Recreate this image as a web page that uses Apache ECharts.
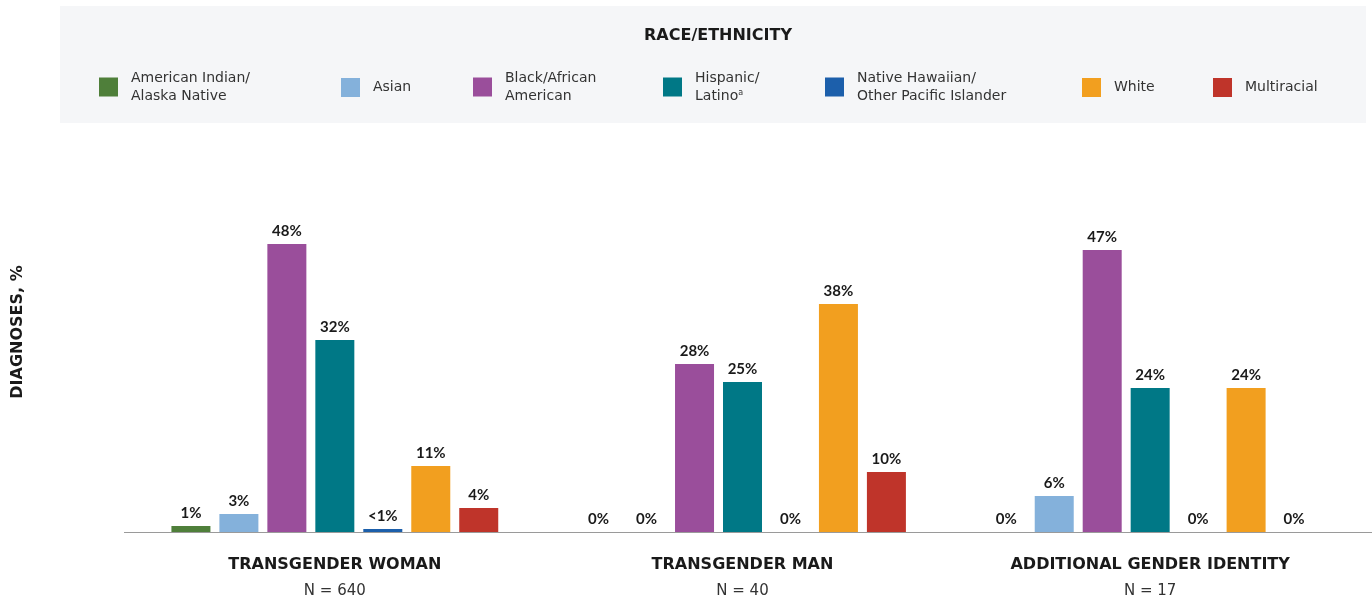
<!DOCTYPE html>
<html>
<head>
<meta charset="utf-8">
<script src="https://cdn.jsdelivr.net/npm/echarts@6/dist/echarts.min.js"></script>
<style>
  html, body { margin: 0; padding: 0; background: #fff; }
  #chart { width: 1372px; height: 601px; }
</style>
</head>
<body>
<div id="chart"></div>
<script>
// gender identity groups
const genders = ['TRANSGENDER WOMAN', 'TRANSGENDER MAN', 'ADDITIONAL GENDER IDENTITY']
const groupSizes = ['N = 640', 'N = 40', 'N = 17']

// race/ethnicity
const races = [
  'American Indian/Alaska Native',
  'Asian',
  'Black/African American',
  'Hispanic/Latino',
  'Native Hawaiian/Other Pacific Islander',
  'White',
  'Multiracial'
]
const legendLabels = [
  'American Indian/\nAlaska Native',
  'Asian',
  'Black/African\nAmerican',
  'Hispanic/\nLatino{sup|a}',
  'Native Hawaiian/\nOther Pacific Islander',
  'White',
  'Multiracial'
]
const raceColors = ['#4f7f3a', '#84b1db', '#9a4e9b', '#007886', '#1c5fab', '#f29f1f', '#bf342a']

// diagnoses, % (one array per race, in gender order)
const aian = [1, 0, 0]
const asian = [3, 0, 6]
const black = [48, 28, 47]
const hispanic = [32, 25, 24]
const nhpi = [0.5, 0, 0]
const white = [11, 38, 24]
const multiracial = [4, 10, 0]
const values = [aian, asian, black, hispanic, nhpi, white, multiracial]

// printed labels (where the text differs from the value)
const nhpiLabels = ['<1%', '0%', '0%']

const chart = echarts.init(document.getElementById('chart'))

const series = races.map((name, i) => ({
  name: name,
  type: 'bar',
  barWidth: 39,
  barGap: '23%',
  itemStyle: { color: raceColors[i] },
  label: {
    show: true,
    position: 'top',
    distance: 5,
    color: '#1a1a1a',
    fontFamily: 'Lato',
    fontWeight: 'bold',
    fontSize: 15,
    formatter: p => (name === races[4] ? nhpiLabels[p.dataIndex] : p.value + '%')
  },
  data: values[i]
}))

// one legend box per item so each sits where the reference puts it
const legendLeft = [99, 341, 473, 663, 825, 1082, 1213]
const legends = races.map((name, i) => ({
  left: legendLeft[i],
  top: legendLabels[i].indexOf('\n') >= 0 ? 69 : 78,
  padding: 0,
  itemWidth: 19,
  itemHeight: 19,
  icon: 'rect',
  data: [name],
  selectedMode: false,
  formatter: () => legendLabels[i],
  textStyle: {
    fontFamily: 'DejaVu Sans',
    fontSize: 14,
    color: '#333',
    lineHeight: 18,
    padding: [0, 0, 0, 8],
    rich: {
      sup: { fontFamily: 'DejaVu Sans', fontSize: 8, color: '#333', lineHeight: 18, padding: [0, 0, 6, 0] }
    }
  }
}))

chart.setOption({
  animation: false,
  backgroundColor: '#fff',
  graphic: [
    {
      type: 'rect',
      z: -10,
      shape: { x: 60, y: 6, width: 1306, height: 117 },
      style: { fill: '#f5f6f8' }
    },
    {
      type: 'line',
      z: 0,
      shape: { x1: 124, y1: 532.5, x2: 1372, y2: 532.5 },
      style: { stroke: '#9a9a9a', lineWidth: 1 }
    },
    {
      type: 'text',
      x: 18,
      y: 332,
      rotation: Math.PI / 2,
      style: {
        text: 'DIAGNOSES, %',
        fontFamily: 'DejaVu Sans',
        fontWeight: 'bold',
        fontSize: 16,
        fill: '#1a1a1a',
        align: 'center',
        verticalAlign: 'middle'
      }
    }
  ],
  title: {
    text: 'RACE/ETHNICITY',
    left: 713,
    textAlign: 'center',
    top: 23,
    textStyle: { fontFamily: 'DejaVu Sans', fontWeight: 'bold', fontSize: 16, color: '#1a1a1a' }
  },
  legend: legends,
  grid: { left: 131, right: 18, top: 232, bottom: 69 },
  xAxis: {
    type: 'category',
    data: genders,
    axisLine: { show: false },
    axisTick: { show: false },
    axisLabel: {
      margin: 19,
      formatter: (v, i) => '{t|' + v + '}\n{n|' + groupSizes[i] + '}',
      rich: {
        t: { fontFamily: 'DejaVu Sans', fontWeight: 'bold', fontSize: 16, color: '#1a1a1a', lineHeight: 27 },
        n: { fontFamily: 'DejaVu Sans', fontSize: 15, color: '#333', lineHeight: 27 }
      }
    }
  },
  yAxis: {
    type: 'value',
    min: 0,
    max: 50,
    axisLabel: { show: false },
    axisLine: { show: false },
    axisTick: { show: false },
    splitLine: { show: false }
  },
  series: series
})
</script>
</body>
</html>
